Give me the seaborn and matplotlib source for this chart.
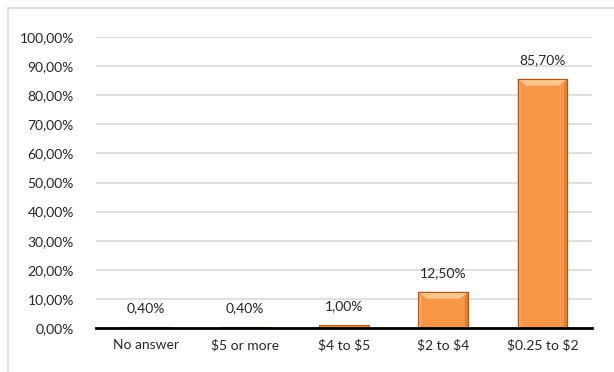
import matplotlib
matplotlib.use("Agg")
import matplotlib.pyplot as plt
import seaborn as sns
import pandas as pd
from matplotlib.patches import Rectangle, Polygon

categories = ["No answer", "$5 or more", "$4 to $5", "$2 to $4", "$0.25 to $2"]
values = [0.40, 0.40, 1.00, 12.50, 85.70]
value_labels = ["0,40%", "0,40%", "1,00%", "12,50%", "85,70%"]
yticks = [0, 10, 20, 30, 40, 50, 60, 70, 80, 90, 100]
ytick_labels = ["0,00%", "10,00%", "20,00%", "30,00%", "40,00%", "50,00%",
                "60,00%", "70,00%", "80,00%", "90,00%", "100,00%"]

sns.set_style("white")
plt.rcParams['font.family'] = ['Lato', 'DejaVu Sans']
plt.rcParams['text.parse_math'] = False

df = pd.DataFrame({"cat": categories, "val": values})

fig = plt.figure(figsize=(6.14, 3.72), dpi=100)
ax = fig.add_axes([96/614, 1-328/372, (592-96)/614, (328-37)/372])

sns.barplot(data=df, x="cat", y="val", ax=ax, color="#F79646", width=0.5,
            edgecolor="#A85A22", linewidth=0.8, saturation=1, zorder=3)

# bevel highlights derived from bar geometry
bars = list(ax.patches[:len(values)])
for p in bars:
    x0, y0 = p.get_x(), p.get_y()
    w, h = p.get_width(), p.get_height()
    if h < 2:
        continue
    bx = w * 0.16
    by = min(h * 0.25, 2.4)
    top = Polygon([[x0, y0 + h], [x0 + w, y0 + h], [x0 + w - bx, y0 + h - by], [x0 + bx, y0 + h - by]],
                  closed=True, facecolor="#FCC68C", edgecolor="none", zorder=4)
    left = Polygon([[x0, y0], [x0, y0 + h], [x0 + bx * 0.4, y0 + h - by], [x0 + bx * 0.4, y0 + by * 0.3]],
                   closed=True, facecolor="#F9A862", edgecolor="none", zorder=4)
    right = Polygon([[x0 + w, y0], [x0 + w, y0 + h], [x0 + w - bx * 0.4, y0 + h - by], [x0 + w - bx * 0.4, y0 + by * 0.3]],
                    closed=True, facecolor="#E3802F", edgecolor="none", zorder=4)
    for poly in (top, left, right):
        ax.add_patch(poly)
    ax.add_patch(Rectangle((x0, y0), w, h, fill=False, edgecolor="#A85A22", linewidth=0.8, zorder=5))

for p, lab in zip(bars, value_labels):
    ax.annotate(lab, (p.get_x() + p.get_width() / 2, p.get_height()),
                xytext=(0, 9), textcoords="offset points", ha="center", va="bottom",
                fontsize=10, color="#262626")

ax.set_ylim(0, 100)
ax.set_yticks(yticks)
ax.set_yticklabels(ytick_labels, fontsize=10, color="#262626")
ax.set_xlim(-0.5, len(categories) - 0.5)
ax.tick_params(axis="x", labelsize=10, colors="#262626", length=0, pad=8)
ax.tick_params(axis="y", length=0, pad=16)
ax.set_xlabel("")
ax.set_ylabel("")
ax.yaxis.grid(True, color="#D9D9D9", linewidth=1.2, zorder=0)
ax.set_axisbelow(True)
for s in ["top", "right", "left"]:
    ax.spines[s].set_visible(False)
ax.spines["bottom"].set_color("black")
ax.spines["bottom"].set_linewidth(2)
ax.spines["bottom"].set_zorder(6)

fig.patches.append(Rectangle((8/614, -0.05), 1.0, 1 - 8/372 + 0.05, transform=fig.transFigure,
                             fill=False, edgecolor="#D9D9D9", linewidth=1.2, figure=fig))

fig.savefig("out.png", dpi=100)
